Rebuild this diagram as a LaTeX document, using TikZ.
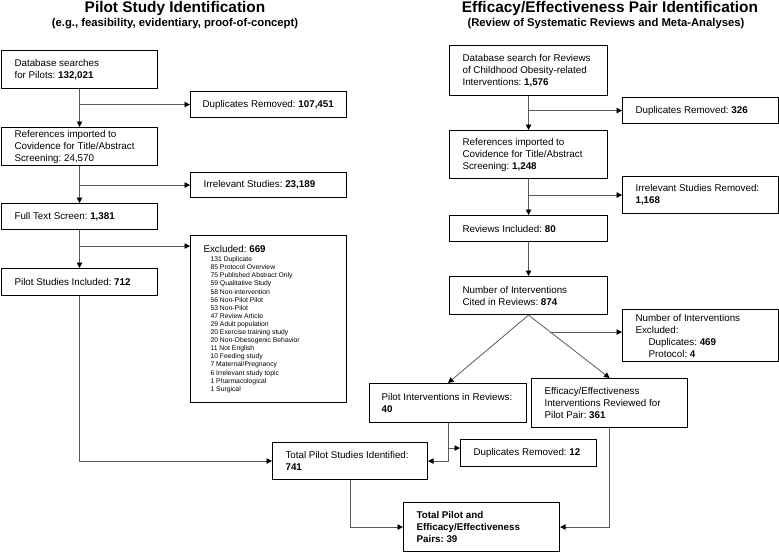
\documentclass[tikz,border=0pt]{standalone}
\usepackage{fontspec}
\setmainfont{Liberation Sans}
\usetikzlibrary{arrows.meta,calc}

\newcommand\boxfont{\fontsize{9.8}{12}\selectfont\frenchspacing}
\newcommand\listfont{\fontsize{6.8}{8.1}\selectfont}

\begin{document}
\begin{tikzpicture}[x=1pt, y=-1pt,
    box/.style={draw, line width=1.1pt, anchor=north west, align=flush left, inner xsep=13pt, inner ysep=2pt, font=\boxfont},
    ttl/.style={font=\fontsize{15.4}{18}\selectfont\bfseries, anchor=base},
    sub/.style={font=\fontsize{11.3}{13}\selectfont\bfseries, anchor=base},
    conn/.style={draw=black!65, line width=0.8pt},
    arr/.style={conn, -{Triangle[length=5.5pt,width=5.5pt,color=black]}},
]
\useasboundingbox (0,0) rectangle (779,552);

% Titles
\node[ttl] (ltitle) at (175,12.5) {Pilot Study Identification};
\node[sub] (lsub) at (175,26) {(e.g., feasibility, evidentiary, proof-of-concept)};
\node[ttl] (rtitle) at (610,12.5) {Efficacy/Effectiveness Pair Identification};
\node[sub] (rsub) at (606,26) {(Review of Systematic Reviews and Meta-Analyses)};

% 1. Pilot study column
\node[box, text width=130pt, minimum height=38pt] (db1) at (1,50) {Database searches\\for Pilots: \textbf{132,021}};
\node[box, text width=136pt, inner xsep=10pt, minimum height=26pt] (dup1) at (190,91) {\hspace*{2pt}Duplicates Removed: \textbf{107,451}};
\node[box, text width=130pt, minimum height=38pt] (ref1) at (1,127) {References imported to\\Covidence for Title/Abstract\\Screening: 24,570};
\node[box, text width=130pt, minimum height=25pt] (irr1) at (190,172) {Irrelevant Studies: \textbf{23,189}};
\node[box, text width=130pt, minimum height=26pt] (fts) at (1,203) {Full Text Screen: \textbf{1,381}};
\node[box, text width=130pt, minimum height=27pt] (psi) at (1,268) {Pilot Studies Included: \textbf{712}};

% 2. Efficacy/effectiveness column
\node[box, text width=132pt, minimum height=50pt] (rdb) at (449,45) {Database search for Reviews\\of Childhood Obesity-related\\Interventions: \textbf{1,576}};
\node[box, text width=130pt, minimum height=26pt] (rdup) at (622,97) {Duplicates Removed: \textbf{326}};
\node[box, text width=132pt, minimum height=48pt] (rref) at (449,130) {References imported to\\Covidence for Title/Abstract\\Screening: \textbf{1,248}};
\node[box, text width=130pt, minimum height=37pt] (rirr) at (622,176) {Irrelevant Studies Removed:\\\textbf{1,168}};
\node[box, text width=132pt, minimum height=26pt] (rinc) at (449,215) {Reviews Included: \textbf{80}};
\node[box, text width=132pt, minimum height=38pt] (nint) at (449,276) {\mbox{Number of Interventions}\\Cited in Reviews: \textbf{874}};
\node[box, text width=130pt, minimum height=52pt] (nexc) at (622,309) {Number of Interventions\\Excluded:\\\hspace*{13pt}Duplicates: \textbf{469}\\\hspace*{13pt}Protocol: \textbf{4}};
\node[box, text width=133pt, inner xsep=12pt, minimum height=39pt] (pir) at (369,383) {Pilot Interventions in Reviews:\\\textbf{40}};
\node[box, text width=130pt, minimum height=49pt] (eer) at (531,378) {Efficacy/Effectiveness\\Interventions Reviewed for\\Pilot Pair: \textbf{361}};

% 3. Merging
\node[box, text width=129pt, minimum height=37pt] (tps) at (272,442) {Total Pilot Studies Identified:\\\textbf{741}};
\node[box, text width=110pt, minimum height=27pt] (dup2) at (460,439) {Duplicates Removed: \textbf{12}};
\node[box, text width=130pt, minimum height=49pt, font=\boxfont\bfseries] (tot) at (403,502) {Total Pilot and\\Efficacy/Effectiveness\\Pairs: 39};

% Excluded reasons (list in small type)
\node[box, text width=130pt, minimum height=167pt] (excl) at (190,235) {Excluded: \textbf{669}\par\vspace{1pt}\listfont\leftskip=7pt
    131 Duplicate\\85 Protocol Overview\\75 Published Abstract Only\\59 Qualitative Study\\58 Non-intervention\\
    56 Non-Pilot Pilot\\53 Non-Pilot\\47 Review Article\\29 Adult population\\20 Exercise training study\\
    20 Non-Obesogenic Behavior\\11 Not English\\10 Feeding study\\7 Maternal/Pregnancy\\6 Irrelevant study topic\\
    1 Pharmacological\\1 Surgical\par};

% Connectors, left
\draw[arr] (db1.south) -- (ref1.north);
\draw[arr] (db1.south |- dup1.west) -- (dup1.west);
\draw[arr] (ref1.south) -- (fts.north);
\draw[arr] (ref1.south |- irr1.west) -- (irr1.west);
\draw[arr] (fts.south) -- (psi.north);
\coordinate (exin) at ($(excl.north west)+(0,11)$);
\draw[arr] (fts.south |- exin) -- (exin);
\draw[arr] (psi.south) |- (tps.west);

% Connectors, right
\draw[arr] (rdb.south) -- (rref.north);
\draw[arr] (rdb.south |- rdup.west) -- (rdup.west);
\draw[arr] (rref.south) -- (rinc.north);
\draw[arr] (rref.south |- rirr.west) -- (rirr.west);
\draw[arr] (rinc.south) -- (nint.north);
\draw[arr] (nint.south) -- (pir.north);
\draw[arr] (nint.south) -- (eer.north);
\coordinate (nb) at ($(nint.south)!0.27!(eer.north)$);
\draw[arr] (nb) -- (nb -| nexc.west);

% Connectors, bottom
\coordinate (d2in) at ($(dup2.west)+(0,-5)$);
\draw[arr] (pir.south |- d2in) -- (d2in);
\draw[arr] (pir.south) |- (tps.east);
\draw[arr] (tps.south) |- (tot.west);
\draw[arr] (eer.south) |- (tot.east);
\end{tikzpicture}
\end{document}
